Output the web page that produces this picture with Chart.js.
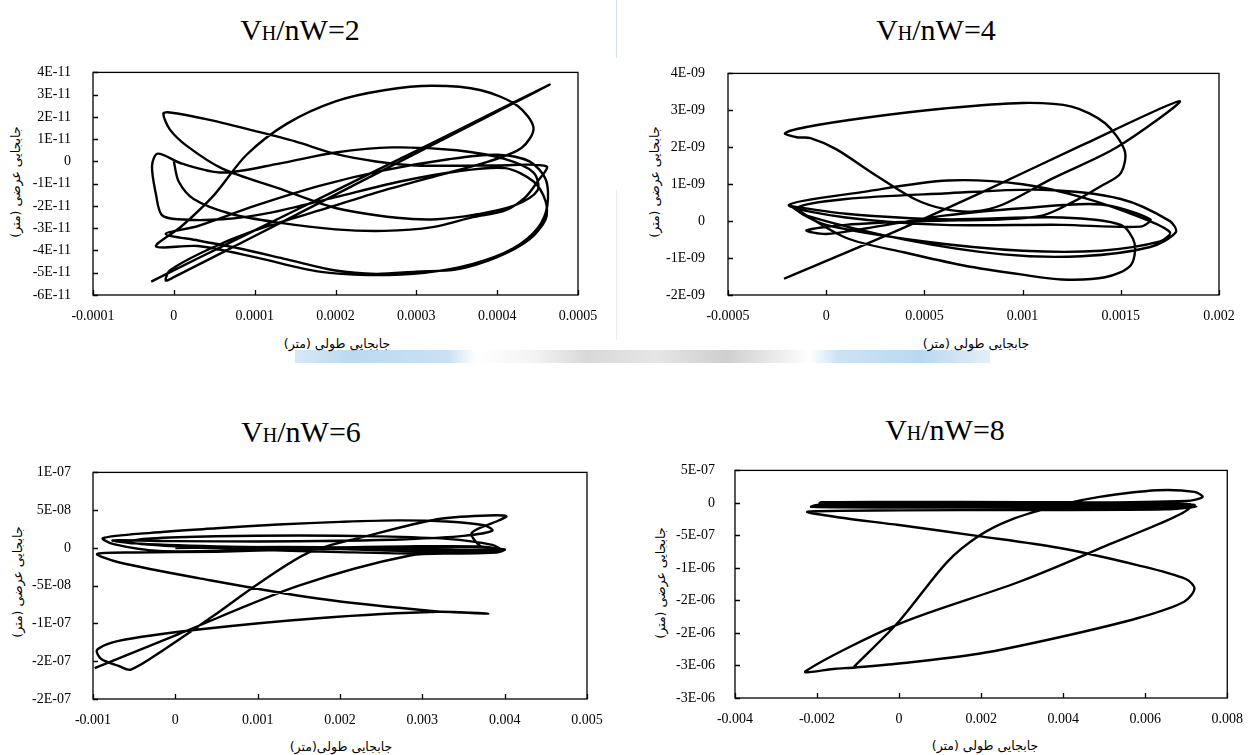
<!DOCTYPE html>
<html lang="en">
<head>
    <meta charset="UTF-8">
    <title>Displacement trajectories</title>
    <script src="https://cdn.jsdelivr.net/npm/chart.js"></script>
    <style>
        body { margin: 0; background: #fff; width: 1248px; height: 755px; position: relative; overflow: hidden; font-family: "Liberation Serif", "DejaVu Serif", serif; }
        canvas { position: absolute; }
        .ttl { position: absolute; font-size: 30px; color: #000; transform: translate(-50%, -50%); white-space: nowrap; }
        .ttl .s { font-size: 20px; }
        .xl, .yl { position: absolute; font-size: 12.5px; color: #000; white-space: nowrap; font-family: "DejaVu Sans", sans-serif; }
        .xl { transform: translate(-50%, -50%); }
        .yl { transform: translate(-50%, -50%) rotate(-90deg); }
        .band { position: absolute; left: 295px; top: 350px; width: 695px; height: 13px;
            background: linear-gradient(90deg, #d8e9f6 0%, #bcd9f0 8%, #c9e1f3 22%, #fff 26%, #f4f4f4 34%, #d9d9d9 42%, #e6e6e6 52%, #cfcfcf 62%, #eeeeee 70%, #fff 74%, #cde3f4 78%, #b9d8f0 90%, #e3eff8 100%); }
        .vline { position: absolute; left: 616px; width: 1px; }
    </style>
</head>
<body>

<div class="vline" style="top:0;height:58px;background:#cfe2f2"></div>
<div class="vline" style="top:190px;height:150px;background:#ececec"></div>
<div class="band"></div>

<div class="ttl" style="left:300px;top:30px">V<span class="s">H</span>/nW=2</div>
<div class="ttl" style="left:936px;top:30px">V<span class="s">H</span>/nW=4</div>
<div class="ttl" style="left:301px;top:432px">V<span class="s">H</span>/nW=6</div>
<div class="ttl" style="left:945px;top:430px">V<span class="s">H</span>/nW=8</div>

<div class="xl" dir="rtl" style="left:337px;top:343px">جابجایی طولی (متر)</div>
<div class="xl" dir="rtl" style="left:976px;top:343px">جابجایی طولی (متر)</div>
<div class="xl" dir="rtl" style="left:341px;top:746px">جابجایی طولی(متر)</div>
<div class="xl" dir="rtl" style="left:985px;top:745px">جابجایی طولی (متر)</div>

<div class="yl" dir="rtl" style="left:15px;top:182px">جابجایی عرضی (متر)</div>
<div class="yl" dir="rtl" style="left:654px;top:182px">جابجایی عرضی (متر)</div>
<div class="yl" dir="rtl" style="left:17px;top:582px">جابجایی عرضی (متر)</div>
<div class="yl" dir="rtl" style="left:660px;top:583px">جابجایی عرضی (متر)</div>

<canvas id="c1" width="620" height="300" style="left:0;top:50px"></canvas>
<canvas id="c2" width="628" height="300" style="left:620px;top:50px"></canvas>
<canvas id="c3" width="620" height="290" style="left:0;top:450px"></canvas>
<canvas id="c4" width="628" height="290" style="left:620px;top:450px"></canvas>

<script>
// VH/nW=2  (x in 1e-4 m, y in 1e-11 m)
const xs1 = [0,0.06,0.25,0.7,1.3,2.0,2.6,3.2,3.7,4.1,4.35,4.5,4.61,
    4.0,3.0,2.5,2.0,1.5,1.0,0.4,-0.05,-0.13,-0.05,0.16,0.6,1.29,2.0,2.76,3.25,3.74,4.2,4.5,4.45,4.1,
    3.5,2.7,2.0,1.3,0.6,0.1,-0.2,-0.27,-0.22,-0.15,0.05,0.6,1.2,2.0,2.8,3.5,4.1,4.45,4.6,4.6,4.4,4.0,3.5,3.0,2.5,2.0,1.4,0.8,0.3,-0.1,
    0.3,1.0,1.8,2.6,3.4,4.0,4.4,4.6,4.62,4.5,4.2,3.7,3.1,2.4,1.8,1.0,0.3,-0.22,
    0.1,0.5,0.9,1.4,2.0,2.6,3.2,3.8,4.25,4.45,4.3,3.9,3.3,2.6,1.8,1.0,0.4,-0.05,-0.1,0.0,
    1.0,2.0,3.0,4.0,4.65,
    4.0,3.0,2.0,1.0,0.3,-0.28];
const ys1 = [0,-0.9,-1.7,-2.35,-2.75,-3.05,-3.12,-2.95,-2.5,-2.2,-1.6,-0.9,-0.22,
    -0.18,-0.18,0.0,0.34,0.9,1.37,1.9,2.2,2.15,1.44,0.7,-0.32,-1.2,-2.09,-2.53,-2.6,-2.38,-2.0,-1.3,-0.5,0.1,
    0.5,0.63,0.4,-0.1,-0.5,-0.1,0.35,-0.2,-1.5,-2.4,-2.6,-2.6,-2.3,-1.6,-0.9,-0.45,-0.3,-0.9,-1.8,-2.6,-3.5,-4.3,-4.85,-4.95,-5.05,-4.9,-4.4,-3.9,-3.55,-3.26,
    -2.9,-2.0,-1.1,-0.4,0.1,0.3,0.0,-0.8,-2.0,-3.0,-3.9,-4.6,-5.0,-5.1,-4.95,-4.3,-3.8,-3.82,
    -2.9,-1.5,0.3,1.7,2.7,3.2,3.4,3.2,2.5,1.5,0.6,0.0,-0.6,-1.3,-2.2,-3.1,-4.0,-4.9,-5.35,-5.2,
    -3.35,-1.49,0.37,2.24,3.45,
    2.28,0.48,-1.31,-3.1,-4.35,-5.4];
const xTicks1 = [-0.0001, 0, 0.0001, 0.0002, 0.0003, 0.0004, 0.0005];
const xLabels1 = ['-0.0001', '0', '0.0001', '0.0002', '0.0003', '0.0004', '0.0005'];
const yTicks1 = [-6e-11, -5e-11, -4e-11, -3e-11, -2e-11, -1e-11, 0, 1e-11, 2e-11, 3e-11, 4e-11];
const yLabels1 = ['-6E-11', '-5E-11', '-4E-11', '-3E-11', '-2E-11', '-1E-11', '0', '1E-11', '2E-11', '3E-11', '4E-11'];

// VH/nW=4  (x in 1e-3 m, y in 1e-9 m)
const xs2 = [-0.215,0.3,0.8,1.3,1.8,1.48,1.15,0.9,0.75,0.6,0.45,0.25,0.05,-0.08,-0.15,-0.21,-0.1,0.2,0.6,1.0,1.25,1.42,1.52,1.5,1.4,1.25,1.1,
    0.9,0.5,0.1,-0.1,0.0,0.2,0.6,1.0,1.4,1.65,1.6,1.2,0.6,0.1,-0.19,
    0.2,0.62,1.0,1.3,1.6,1.75,1.7,1.4,1.0,0.5,0.0,-0.15,0.1,0.6,1.1,1.5,1.75,1.78,1.65,1.3,0.9,0.4,-0.1,-0.18,
    0.1,0.4,0.7,1.0,1.2,1.42,1.55,1.57,1.5,1.2,0.6,0.1,-0.17];
const ys2 = [-1.56,-0.4,0.8,2.05,3.25,2.0,1.15,0.45,0.26,0.33,0.6,1.25,1.95,2.25,2.27,2.38,2.55,2.8,3.05,3.2,3.1,2.65,1.9,1.3,0.95,0.5,0.15,
    0.05,0.0,-0.1,-0.25,-0.35,-0.2,0.15,0.35,0.45,0.05,-0.15,-0.1,-0.1,0.1,0.44,
    0.8,1.1,1.0,0.65,0.1,-0.3,-0.55,-0.8,-0.8,-0.55,-0.1,0.35,0.6,0.75,0.85,0.6,0.0,-0.3,-0.7,-0.95,-0.9,-0.5,0.15,0.42,
    -0.45,-0.85,-1.2,-1.45,-1.58,-1.52,-1.2,-0.6,-0.1,0.1,0.05,0.2,0.4];
const xTicks2 = [-0.0005, 0, 0.0005, 0.001, 0.0015, 0.002];
const xLabels2 = ['-0.0005', '0', '0.0005', '0.001', '0.0015', '0.002'];
const yTicks2 = [-2e-9, -1e-9, 0, 1e-9, 2e-9, 3e-9, 4e-9];
const yLabels2 = ['-2E-09', '-1E-09', '0', '1E-09', '2E-09', '3E-09', '4E-09'];

// VH/nW=6  (x in 1e-3 m, y in 1e-8 m)
const xs3 = [0,0.8,1.8,2.8,3.6,3.95,3.7,2.8,1.8,0.8,-0.2,-0.75,-0.88,-0.3,0.5,1.25,2.0,2.7,3.3,3.75,3.85,3.5,2.8,2.0,1.0,0.0,-0.76,
    -0.5,0.5,1.5,2.5,3.5,3.95,3.85,3.3,2.4,1.5,0.5,-0.3,-0.6,0.0,1.0,2.0,3.0,3.9,4.0,3.6,2.5,1.5,0.5,-0.5,-0.95,
    -0.69,0.28,1.73,3.18,3.8,3.18,1.73,0.28,-0.69,-0.95,-0.9,-0.69,-0.54,
    -0.13,0.5,1.0,1.63,2.3,3.18,3.8,4.02,3.92,3.6,3.7,3.9,3.5,2.85,1.5,0.04,-0.98];
const ys3 = [0,0.1,0.1,-0.1,-0.3,-0.2,0.2,0.2,0.0,-0.3,-0.4,0.5,1.3,2.0,2.6,3.1,3.45,3.65,3.5,3.0,2.3,1.6,1.15,0.95,0.85,0.9,1.0,
    0.6,0.2,0.0,-0.3,-0.6,-0.3,0.4,1.2,1.55,1.65,1.55,1.25,0.8,0.2,-0.25,-0.55,-0.75,-0.6,-0.2,0.1,0.0,-0.2,-0.5,-0.6,-0.8,
    -1.9,-4.0,-6.7,-8.4,-8.7,-8.45,-9.3,-10.8,-12.3,-13.5,-14.7,-15.6,-16.1,
    -13.4,-8.7,-4.8,-0.56,1.5,3.8,4.3,4.2,3.6,2.0,0.3,-0.3,-0.7,-1.0,-5.0,-11.4,-15.9];
const xTicks3 = [-0.001, 0, 0.001, 0.002, 0.003, 0.004, 0.005];
const xLabels3 = ['-0.001', '0', '0.001', '0.002', '0.003', '0.004', '0.005'];
const yTicks3 = [-2e-7, -1.5e-7, -1e-7, -5e-8, 0, 5e-8, 1e-7];
const yLabels3 = ['-2E-07', '-2E-07', '-1E-07', '-5E-08', '0', '5E-08', '1E-07'];

// VH/nW=8  (x in 1e-3 m, y in 1e-7 m)
const xs4 = [0,3,6,7.1,6.5,3,0,-1.94,-1.9,0,3,6,7.2,6.5,3,0,-2.14,-2.0,0,3,6.5,7.25,6.5,3,0,-2.23,
    -1.5,0,1.94,3.88,5.83,6.99,7.2,6.95,5.83,3.88,1.94,0,-1.07,-1.55,-2.28,
    0,2.9,4.85,7.1,5,2,-1.9,1,4,7.0,7.4,7.2,6.3,4.85,3.9,2.72,1.94,1.17,0,-1.1];
const ys4 = [0,0.05,0.0,-0.2,-0.45,-0.4,-0.35,-0.1,0.1,0.15,0.1,0.05,-0.3,-0.7,-0.7,-0.7,-0.6,-0.3,-0.1,-0.1,-0.3,-0.55,-1.0,-1.1,-1.15,-1.36,
    -2.2,-3.4,-5.1,-6.9,-9.6,-11.7,-13.2,-15.2,-17.7,-20.7,-23.2,-24.7,-25.3,-25.5,-25.9,
    -18.6,-12.2,-7.1,-0.6,-0.55,-0.5,-0.3,0.0,0.0,0.3,0.9,1.7,1.95,0.9,-0.35,-2.6,-5.1,-9.1,-18.2,-25.2];
const xTicks4 = [-0.004, -0.002, 0, 0.002, 0.004, 0.006, 0.008];
const xLabels4 = ['-0.004', '-0.002', '0', '0.002', '0.004', '0.006', '0.008'];
const yTicks4 = [-3e-6, -2.5e-6, -2e-6, -1.5e-6, -1e-6, -5e-7, 0, 5e-7];
const yLabels4 = ['-3E-06', '-3E-06', '-2E-06', '-2E-06', '-1E-06', '-5E-07', '0', '5E-07'];

Chart.defaults.font.family = "'Liberation Serif', 'Times New Roman', serif";
Chart.defaults.font.size = 14;
Chart.defaults.color = '#000';

// plot box with inward tick marks, like the spreadsheet original
const frame = {
    id: 'frame',
    afterDatasetsDraw(chart) {
        const { ctx, chartArea: a, scales } = chart;
        ctx.save();
        ctx.strokeStyle = '#000';
        ctx.lineWidth = 1.3;
        ctx.strokeRect(a.left, a.top, a.width, a.height);
        ctx.beginPath();
        scales.x.ticks.forEach(t => {
            const px = Math.round(scales.x.getPixelForValue(t.value)) + 0.5;
            ctx.moveTo(px, a.bottom);
            ctx.lineTo(px, a.bottom - 5);
        });
        scales.y.ticks.forEach(t => {
            const py = Math.round(scales.y.getPixelForValue(t.value)) + 0.5;
            ctx.moveTo(a.left, py);
            ctx.lineTo(a.left + 5, py);
        });
        ctx.stroke();
        ctx.restore();
    }
};

function makeChart(id, xs, ys, xScale, yScale, xT, xL, yT, yL, box) {
    const pts = xs.map((x, i) => ({ x: x * xScale, y: ys[i] * yScale }));
    return new Chart(document.getElementById(id), {
        type: 'scatter',
        data: {
            datasets: [{
                data: pts,
                showLine: true,
                borderColor: '#000',
                borderWidth: 2.4,
                pointRadius: 0,
                tension: 0.3
            }]
        },
        options: {
            responsive: false,
            animation: false,
            layout: { padding: { top: box.top, right: box.right, left: 0, bottom: 0 } },
            plugins: { legend: { display: false }, tooltip: { enabled: false } },
            scales: {
                x: {
                    type: 'linear',
                    min: xT[0], max: xT[xT.length - 1],
                    grid: { display: false },
                    border: { display: false },
                    afterBuildTicks: s => { s.ticks = xT.map(v => ({ value: v })); },
                    afterFit: s => { s.height = box.xh; },
                    ticks: { padding: 5, maxRotation: 0, autoSkip: false,
                        callback: (v, i) => xL[i] }
                },
                y: {
                    type: 'linear',
                    min: yT[0], max: yT[yT.length - 1],
                    grid: { display: false },
                    border: { display: false },
                    afterBuildTicks: s => { s.ticks = yT.map(v => ({ value: v })); },
                    afterFit: s => { s.width = box.yw; },
                    ticks: { padding: box.yp, autoSkip: false,
                        callback: (v, i) => yL[i] }
                }
            }
        },
        plugins: [frame]
    });
}

makeChart('c1', xs1, ys1, 1e-4, 1e-11, xTicks1, xLabels1, yTicks1, yLabels1,
    { top: 18, right: 42, xh: 55, yw: 93, yp: 14 });
makeChart('c2', xs2, ys2, 1e-3, 1e-9, xTicks2, xLabels2, yTicks2, yLabels2,
    { top: 17, right: 29, xh: 55, yw: 108, yp: 15 });
makeChart('c3', xs3, ys3, 1e-3, 1e-8, xTicks3, xLabels3, yTicks3, yLabels3,
    { top: 19, right: 33, xh: 41, yw: 93, yp: 14 });
makeChart('c4', xs4, ys4, 1e-3, 1e-7, xTicks4, xLabels4, yTicks4, yLabels4,
    { top: 17, right: 15, xh: 42, yw: 115, yp: 12 });
</script>
</body>
</html>
